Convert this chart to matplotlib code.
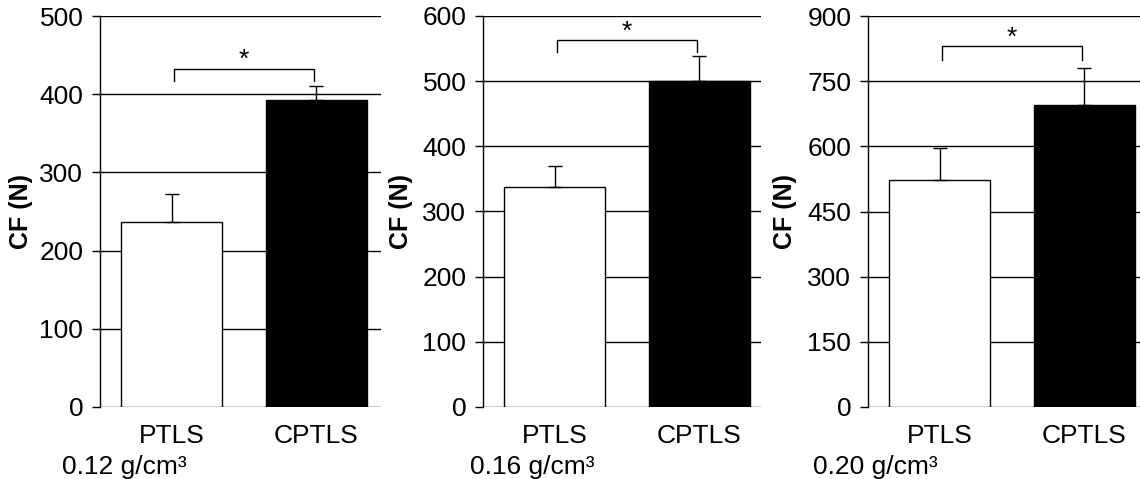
import numpy as np
import matplotlib.pyplot as plt

plt.rcParams['font.family'] = ['Liberation Sans', 'DejaVu Sans']

groups = ['PTLS', 'CPTLS']
densities = ['0.12 g/cm³', '0.16 g/cm³', '0.20 g/cm³']
means = [[236, 392], [338, 500], [522, 695]]
errs = [[37, 18], [32, 39], [75, 86]]
ymax = [500, 600, 900]
ysteps = [100, 100, 150]
bracket_y = [432, 563, 831]
bracket_leg = [417, 544, 799]
star_y = [435, 565, 834]

# figure-pixel layout of each panel (left, width) and label offsets
lefts = [100, 483, 868]
widths = [281, 278, 272]
ylab_x = [-0.238, -0.252, -0.261]
dens_x = [-0.135, -0.047, -0.202]

W, H = 1140, 479
fig = plt.figure(figsize=(W / 100, H / 100), dpi=100)

xpos = np.array([0, 1.43])

for i in range(3):
    ax = fig.add_axes([lefts[i] / W, 72 / H, widths[i] / W, 391 / H])
    ax.set_axisbelow(True)
    ax.bar(xpos, means[i], width=1.0, color=['white', 'black'],
           edgecolor='black', linewidth=1.0, zorder=2)
    ax.errorbar(xpos, means[i], yerr=[[0, 0], errs[i]], fmt='none',
                ecolor='black', elinewidth=1.0, capsize=5, capthick=1.0, zorder=3)

    ax.set_xlim(-0.71, -0.71 + widths[i] / 101)
    ax.set_ylim(0, ymax[i])
    ax.set_yticks(np.arange(0, ymax[i] + 1, ysteps[i]))
    ax.yaxis.grid(True, color='black', linewidth=1.0)
    ax.tick_params(axis='y', length=6, width=1.0, pad=6, labelsize=19)
    ax.set_xticks(xpos)
    ax.set_xticklabels(groups)
    ax.tick_params(axis='x', length=0, pad=12, labelsize=19)
    for s in ['top', 'right', 'bottom']:
        ax.spines[s].set_visible(False)
    ax.spines['left'].set_linewidth(1.0)

    ax.set_ylabel('CF (N)', fontsize=18, fontweight='bold')
    ax.yaxis.set_label_coords(ylab_x[i], 0.5)

    # significance bracket
    ax.plot([xpos[0] + 0.02, xpos[0] + 0.02, xpos[1] - 0.02, xpos[1] - 0.02],
            [bracket_leg[i], bracket_y[i], bracket_y[i], bracket_leg[i]],
            color='black', lw=1.0, clip_on=False, zorder=4)
    ax.text(xpos.mean(), star_y[i], '*', ha='center', va='baseline', fontsize=19)

    ax.text(dens_x[i], -0.171, densities[i], transform=ax.transAxes,
            ha='left', va='baseline', fontsize=19)

fig.savefig('out.png', dpi=100)
